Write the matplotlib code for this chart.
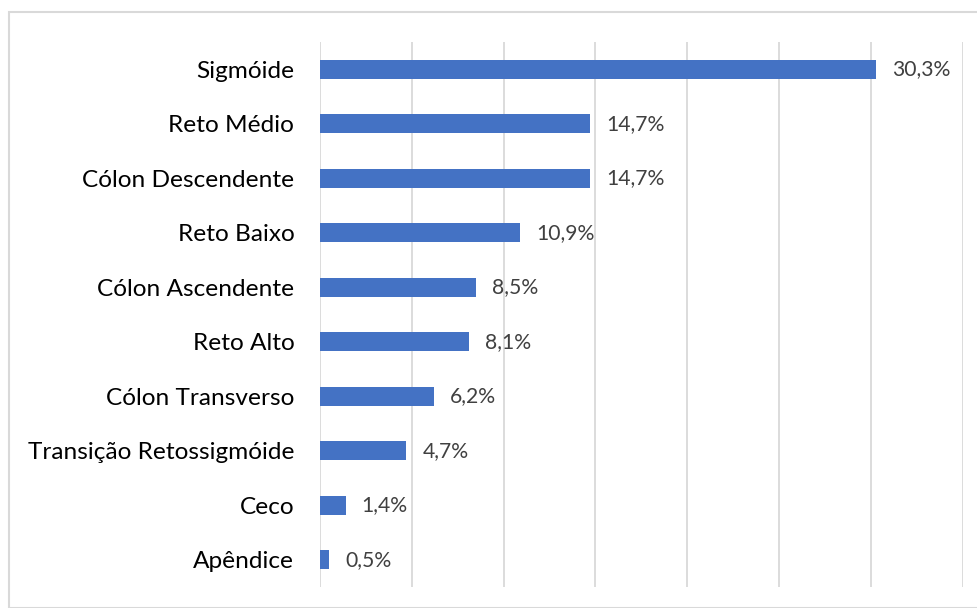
import matplotlib
matplotlib.use("Agg")
import matplotlib.pyplot as plt
from matplotlib.patches import Rectangle

categories = ["Sigmóide", "Reto Médio", "Cólon Descendente", "Reto Baixo",
              "Cólon Ascendente", "Reto Alto", "Cólon Transverso",
              "Transição Retossigmóide", "Ceco", "Apêndice"]
values = [30.3, 14.7, 14.7, 10.9, 8.5, 8.1, 6.2, 4.7, 1.4, 0.5]
value_labels = ["30,3%", "14,7%", "14,7%", "10,9%", "8,5%", "8,1%", "6,2%", "4,7%", "1,4%", "0,5%"]

plt.rcParams['font.family'] = ['Lato', 'DejaVu Sans']

fig = plt.figure(figsize=(9.78, 6.08), dpi=100)
W, H = 978, 608
ax = fig.add_axes([320 / W, 1 - 587 / H, (962.7 - 320) / W, (587 - 42) / H])

y = list(range(len(categories)))
ax.barh(y, values, height=0.35, color="#4472C4", zorder=3)
ax.set_ylim(len(categories) - 0.5, -0.5)
ax.set_xlim(0, 35)
ax.set_xticks([0, 5, 10, 15, 20, 25, 30, 35])
ax.xaxis.grid(True, color="#d9d9d9", linewidth=1.3, zorder=0)
ax.tick_params(axis='x', length=0, labelbottom=False)
ax.tick_params(axis='y', length=0, pad=18.5, labelsize=17.6, labelcolor="#000000")
ax.set_yticks(y)
ax.set_yticklabels(categories)
for s in ax.spines.values():
    s.set_visible(False)

for yi, v, lab in zip(y, values, value_labels):
    ax.annotate(lab, (v, yi), xytext=(16, 0), textcoords="offset pixels",
                va="center", ha="left", fontsize=15.2, color="#404040")

fig.patches.append(Rectangle((9 / W, 0), 1.2, 1 - 12 / H, transform=fig.transFigure,
                             fill=False, edgecolor="#d9d9d9", linewidth=1.5))

fig.savefig("out.png", dpi=100)
